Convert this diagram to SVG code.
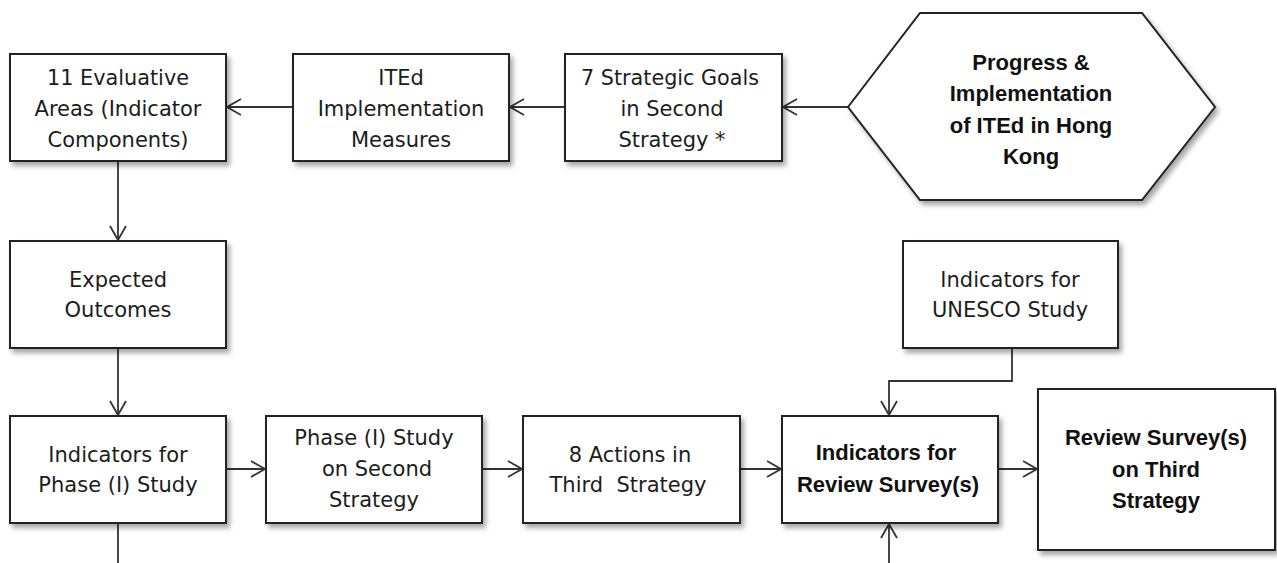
<svg xmlns="http://www.w3.org/2000/svg" width="1277" height="563" viewBox="0 0 1277 563">
<style>
  .box { fill: #ffffff; stroke: #222222; stroke-width: 2; filter: url(#shadow); }
  .t { font-family: "DejaVu Sans", sans-serif; font-size: 21px; fill: #1c1c1c; text-anchor: middle; }
  .b { font-family: "Liberation Sans", Arial, sans-serif; font-size: 22px; font-weight: bold; fill: #111111; text-anchor: middle; }
  .c { fill: none; stroke: #333333; stroke-width: 1.8; }
</style>
<defs>
  <filter id="shadow" x="-10%" y="-10%" width="130%" height="140%">
    <feDropShadow dx="3" dy="4" stdDeviation="2.5" flood-color="#000000" flood-opacity="0.35"/>
  </filter>
  <marker id="arr" viewBox="0 0 16 18" refX="15" refY="9" markerWidth="16" markerHeight="18" markerUnits="userSpaceOnUse" orient="auto">
    <path d="M1,1 L15,9 L1,17" fill="none" stroke="#333333" stroke-width="1.8"/>
  </marker>
</defs>
<rect width="1277" height="563" fill="#ffffff"/>

<g id="connectors">
  <line class="c" x1="848" y1="107" x2="783" y2="107" marker-end="url(#arr)"/>
  <line class="c" x1="565" y1="107" x2="510" y2="107" marker-end="url(#arr)"/>
  <line class="c" x1="293" y1="107" x2="227" y2="107" marker-end="url(#arr)"/>
  <line class="c" x1="118" y1="161" x2="118" y2="240" marker-end="url(#arr)"/>
  <line class="c" x1="118" y1="348" x2="118" y2="415" marker-end="url(#arr)"/>
  <line class="c" x1="118" y1="523" x2="118" y2="563"/>
  <line class="c" x1="226" y1="469" x2="265" y2="469" marker-end="url(#arr)"/>
  <line class="c" x1="482" y1="469" x2="522" y2="469" marker-end="url(#arr)"/>
  <line class="c" x1="740" y1="469" x2="781" y2="469" marker-end="url(#arr)"/>
  <line class="c" x1="998" y1="469" x2="1037" y2="469" marker-end="url(#arr)"/>
  <polyline class="c" points="1012,348 1012,381 889,381 889,415" marker-end="url(#arr)"/>
  <line class="c" x1="889" y1="563" x2="889" y2="524" marker-end="url(#arr)"/>
</g>

<g id="n-evaluative">
  <rect class="box" x="10" y="54" width="216" height="107"/>
  <text class="t" x="118" y="85" textLength="142" lengthAdjust="spacingAndGlyphs">11 Evaluative</text>
  <text class="t" x="118" y="116">Areas (Indicator</text>
  <text class="t" x="118" y="147">Components)</text>
</g>

<g id="n-measures">
  <rect class="box" x="293" y="54" width="216" height="107"/>
  <text class="t" x="401" y="85">ITEd</text>
  <text class="t" x="401" y="116">Implementation</text>
  <text class="t" x="401" y="147">Measures</text>
</g>

<g id="n-goals">
  <rect class="box" x="565" y="54" width="217" height="107"/>
  <text class="t" x="670" y="85" textLength="178" lengthAdjust="spacingAndGlyphs">7 Strategic Goals</text>
  <text class="t" x="672" y="116">in Second</text>
  <text class="t" x="672" y="147">Strategy *</text>
</g>

<g id="n-progress">
  <polygon class="box" points="848,107 920,13 1142,13 1215,107 1142,200 920,200"/>
  <text class="b" x="1031" y="70">Progress &amp;</text>
  <text class="b" x="1031" y="101">Implementation</text>
  <text class="b" x="1031" y="133">of ITEd in Hong</text>
  <text class="b" x="1031" y="164">Kong</text>
</g>

<g id="n-expected">
  <rect class="box" x="10" y="241" width="216" height="107"/>
  <text class="t" x="118" y="287">Expected</text>
  <text class="t" x="118" y="317">Outcomes</text>
</g>

<g id="n-phase-indicators">
  <rect class="box" x="10" y="416" width="216" height="107"/>
  <text class="t" x="118" y="462">Indicators for</text>
  <text class="t" x="118" y="492">Phase (I) Study</text>
</g>

<g id="n-phase-study">
  <rect class="box" x="266" y="416" width="216" height="107"/>
  <text class="t" x="374" y="445">Phase (I) Study</text>
  <text class="t" x="377" y="476">on Second</text>
  <text class="t" x="374" y="507">Strategy</text>
</g>

<g id="n-actions">
  <rect class="box" x="523" y="416" width="217" height="107"/>
  <text class="t" x="630" y="462">8 Actions in</text>
  <text class="t" x="628" y="492" xml:space="preserve">Third  Strategy</text>
</g>

<g id="n-review-indicators">
  <rect class="box" x="782" y="416" width="216" height="107"/>
  <text class="b" x="886" y="460">Indicators for</text>
  <text class="b" x="888" y="492">Review Survey(s)</text>
</g>

<g id="n-review-survey">
  <rect class="box" x="1038" y="389" width="237" height="161"/>
  <text class="b" x="1156" y="445">Review Survey(s)</text>
  <text class="b" x="1156" y="477">on Third</text>
  <text class="b" x="1156" y="508">Strategy</text>
</g>

<g id="n-unesco">
  <rect class="box" x="903" y="241" width="215" height="107"/>
  <text class="t" x="1010" y="287">Indicators for</text>
  <text class="t" x="1010" y="317">UNESCO Study</text>
</g>
</svg>
